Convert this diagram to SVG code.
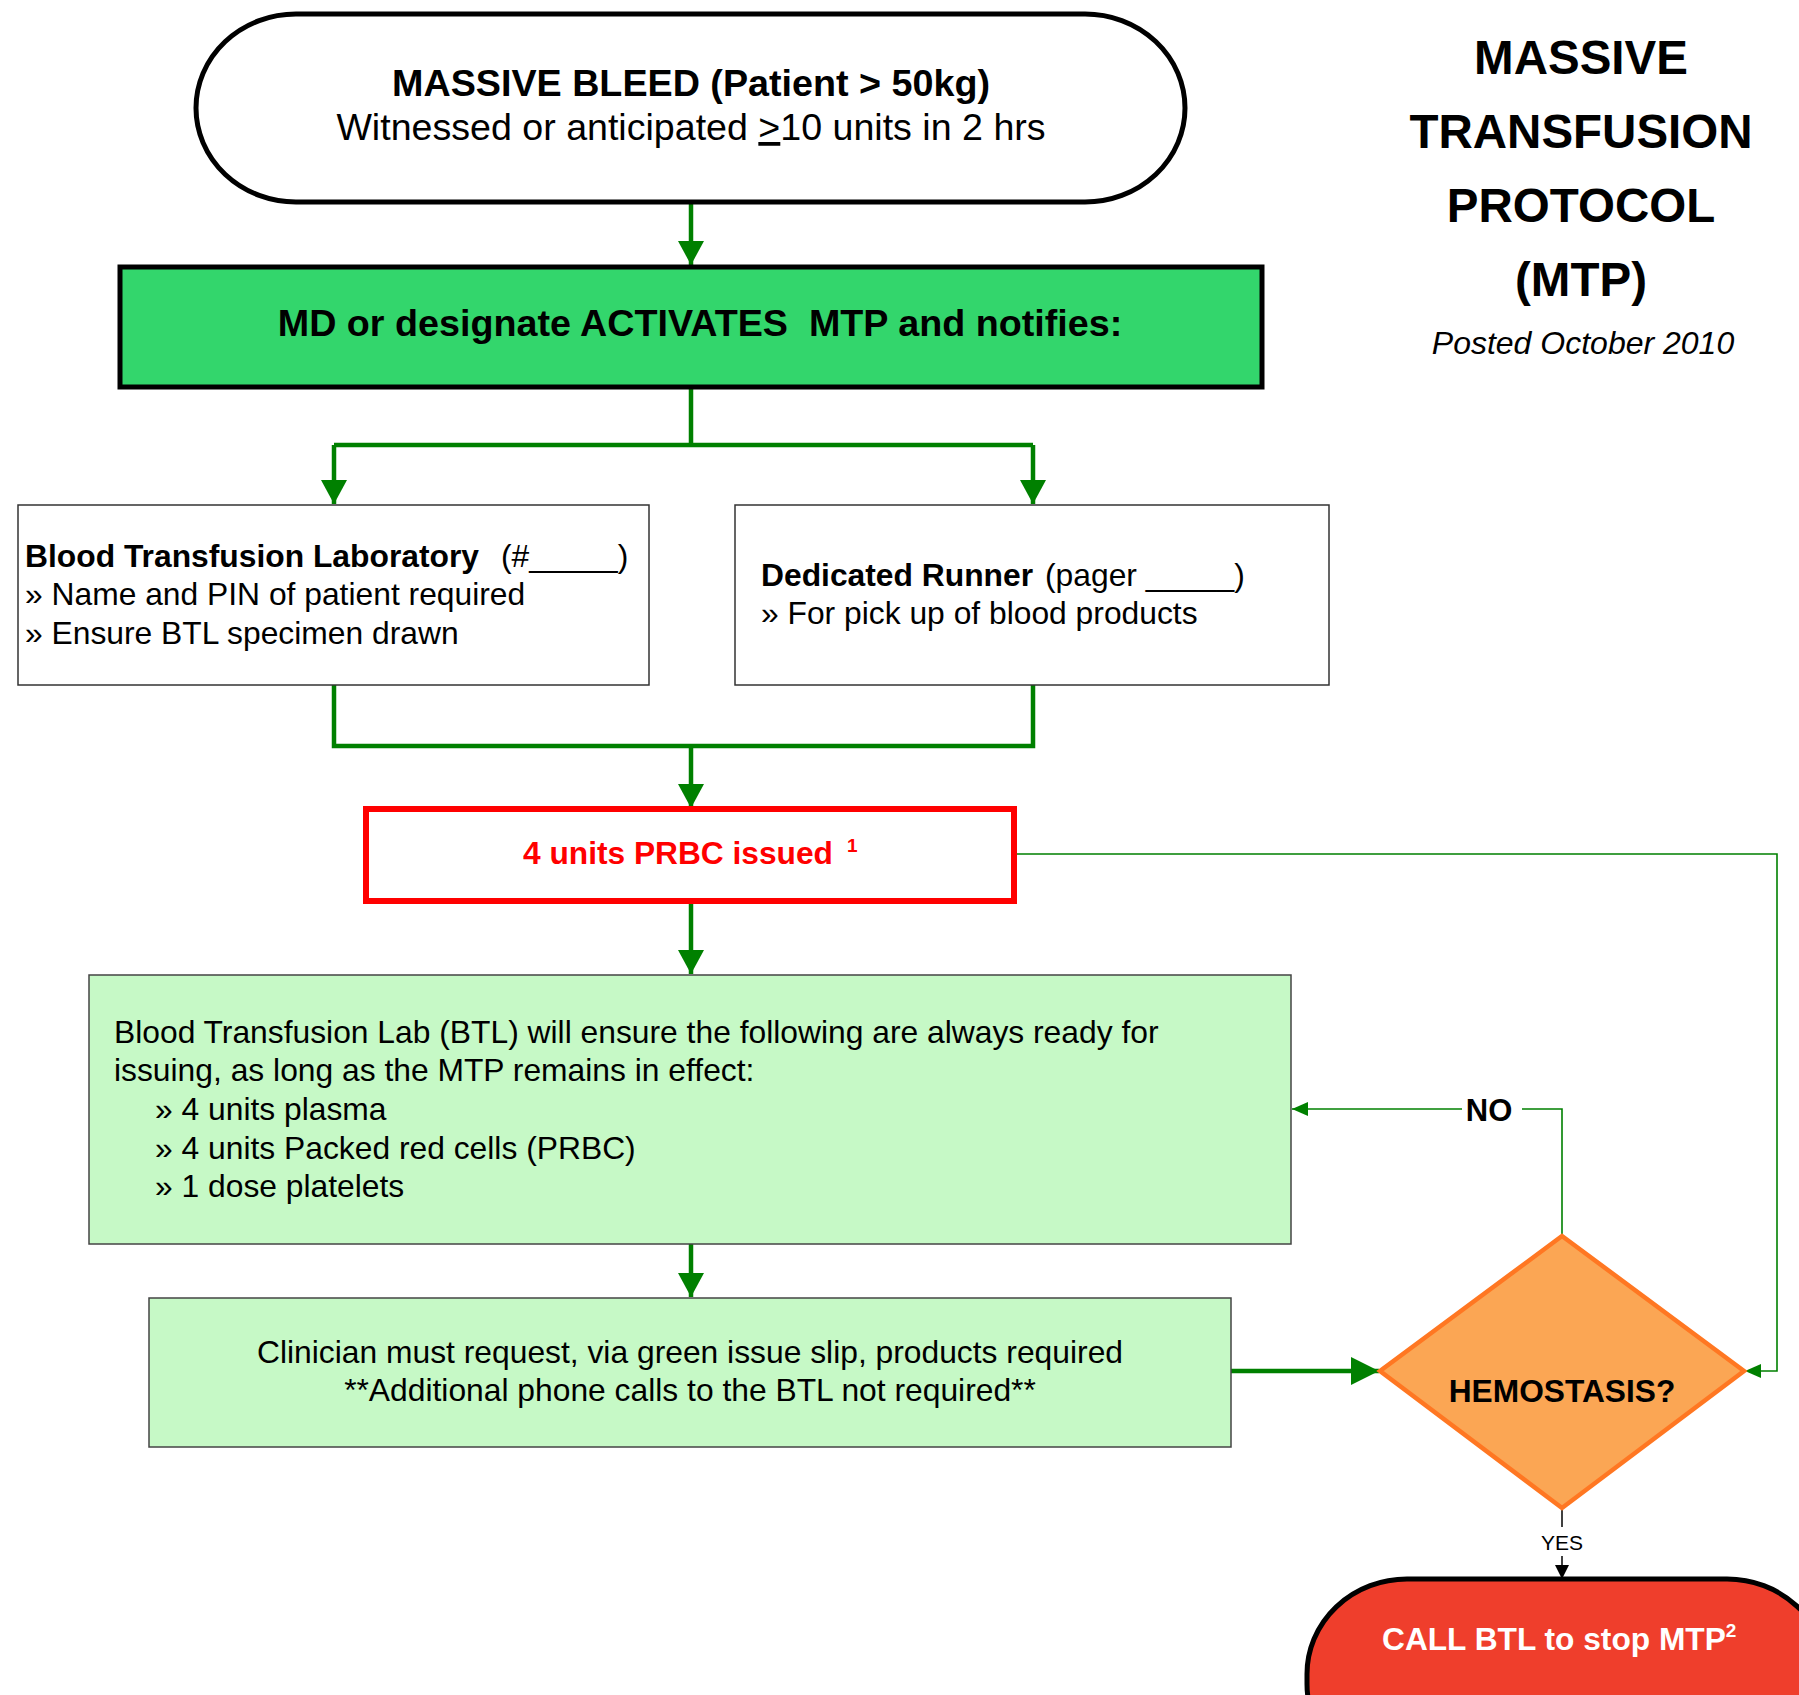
<svg xmlns="http://www.w3.org/2000/svg" width="1799" height="1695" viewBox="0 0 1799 1695">
<style>
text{font-family:"Liberation Sans",Arial,sans-serif;fill:#000}
.b{font-weight:bold}
.t{font-size:31.8px}
.c{text-anchor:middle}
.box{fill:#fff;stroke:#333;stroke-width:1.5}
.lg{fill:#c6f9c6;stroke:#444;stroke-width:1.5}
.thick{fill:none;stroke:#008000;stroke-width:4.5}
.thin{fill:none;stroke:#008000;stroke-width:1.6}
.title{font-size:47.5px;font-weight:bold;text-anchor:middle}
</style>
<defs>
<marker id="ag" markerUnits="userSpaceOnUse" markerWidth="24" markerHeight="26" refX="24" refY="13" orient="auto"><path d="M0,0 L24,13 L0,26 z" fill="#008000"/></marker>
<marker id="agb" markerUnits="userSpaceOnUse" markerWidth="28" markerHeight="28" refX="28" refY="14" orient="auto"><path d="M0,0 L28,14 L0,28 z" fill="#008000"/></marker>
<marker id="as" markerUnits="userSpaceOnUse" markerWidth="16" markerHeight="14" refX="16" refY="7" orient="auto"><path d="M0,0 L16,7 L0,14 z" fill="#008000"/></marker>
<marker id="ak" markerUnits="userSpaceOnUse" markerWidth="14" markerHeight="14" refX="14" refY="7" orient="auto"><path d="M0,0 L14,7 L0,14 z" fill="#000"/></marker>
</defs>

<g id="title">
<text class="title" x="1581" y="74">MASSIVE</text>
<text class="title" x="1581" y="148">TRANSFUSION</text>
<text class="title" x="1581" y="222">PROTOCOL</text>
<text class="title" x="1581" y="296">(MTP)</text>
<text x="1583" y="354" style="font-size:32px;font-style:italic" class="c">Posted October 2010</text>
</g>

<g id="connectors">
<path class="thick" d="M691,203 V265" marker-end="url(#ag)"/>
<path class="thick" d="M691,387 V445 M334,445 H1033"/>
<path class="thick" d="M334,445 V504" marker-end="url(#ag)"/>
<path class="thick" d="M1033,445 V504" marker-end="url(#ag)"/>
<path class="thick" d="M334,685 V746 H1033 V685"/>
<path class="thick" d="M691,746 V808" marker-end="url(#ag)"/>
<path class="thick" d="M691,901 V974" marker-end="url(#ag)"/>
<path class="thick" d="M691,1244 V1297" marker-end="url(#ag)"/>
<path class="thick" d="M1231,1371 H1379" stroke-width="5" marker-end="url(#agb)"/>
<path class="thin" d="M1014,854 H1777 V1371 H1745" stroke="#2e9a2e" marker-end="url(#as)"/>
<path class="thin" d="M1562,1236 V1109 H1522"/>
<path class="thin" d="M1462,1109 H1292" marker-end="url(#as)"/>
<text class="b c" x="1489" y="1121" style="font-size:31px">NO</text>
<path d="M1562,1508 V1527" stroke="#000" stroke-width="1.5" fill="none"/>
<text class="c" x="1562" y="1550" style="font-size:21px">YES</text>
<path d="M1562,1556 V1579" stroke="#000" stroke-width="1.5" fill="none" marker-end="url(#ak)"/>
</g>

<g id="start">
<rect x="196" y="14" width="989" height="188" rx="100" ry="94" fill="#fff" stroke="#000" stroke-width="5"/>
<text class="b c" x="691" y="96" style="font-size:37.7px">MASSIVE BLEED (Patient &gt; 50kg)</text>
<text class="c" x="691" y="140" style="font-size:37.6px">Witnessed or anticipated <tspan text-decoration="underline">&gt;</tspan>10 units in 2 hrs</text>
</g>

<g id="activate">
<rect x="120" y="267" width="1142" height="120" fill="#33d66c" stroke="#000" stroke-width="5"/>
<text class="b c" x="700" y="336" style="font-size:37.7px;white-space:pre">MD or designate ACTIVATES  MTP and notifies:</text>
</g>

<g id="btl">
<rect class="box" x="18" y="505" width="631" height="180"/>
<text class="t" x="25" y="567"><tspan class="b">Blood Transfusion Laboratory</tspan><tspan x="501">(#_____)</tspan></text>
<text class="t" x="25" y="605">» Name and PIN of patient required</text>
<text class="t" x="25" y="644">» Ensure BTL specimen drawn</text>
</g>

<g id="runner">
<rect class="box" x="735" y="505" width="594" height="180"/>
<text class="t" x="761" y="586"><tspan class="b">Dedicated Runner</tspan><tspan x="1045">(pager _____)</tspan></text>
<text class="t" x="761" y="624">» For pick up of blood products</text>
</g>

<g id="prbc">
<rect x="366" y="809" width="648" height="92" fill="#fff" stroke="#ff0000" stroke-width="6"/>
<text class="b" x="523" y="864" style="font-size:31.7px;fill:#ff0000">4 units PRBC issued</text>
<text class="b" x="847" y="852" style="font-size:19px;fill:#ff0000">1</text>
</g>

<g id="ready">
<rect class="lg" x="89" y="975" width="1202" height="269"/>
<text class="t" x="114" y="1043">Blood Transfusion Lab (BTL) will ensure the following are always ready for</text>
<text class="t" x="114" y="1081">issuing, as long as the MTP remains in effect:</text>
<text class="t" x="155" y="1120">» 4 units plasma</text>
<text class="t" x="155" y="1159">» 4 units Packed red cells (PRBC)</text>
<text class="t" x="155" y="1197">» 1 dose platelets</text>
</g>

<g id="clinician">
<rect class="lg" x="149" y="1298" width="1082" height="149"/>
<text class="t c" x="690" y="1363">Clinician must request, via green issue slip, products required</text>
<text class="t c" x="690" y="1401">**Additional phone calls to the BTL not required**</text>
</g>

<g id="hemostasis">
<path d="M1562,1236 L1744,1371 L1562,1508 L1380,1371 Z" fill="#fba654" stroke="#ff7722" stroke-width="4.5"/>
<text class="b c" x="1562" y="1402" style="font-size:31.7px">HEMOSTASIS?</text>
</g>

<g id="stop">
<rect x="1307" y="1579" width="520" height="200" rx="100" ry="95" fill="#ef3e2c" stroke="#000" stroke-width="5"/>
<text class="b" x="1382" y="1650" style="font-size:31.7px;fill:#fff">CALL BTL to stop MTP<tspan dy="-13" style="font-size:19px">2</tspan></text>
</g>
</svg>
